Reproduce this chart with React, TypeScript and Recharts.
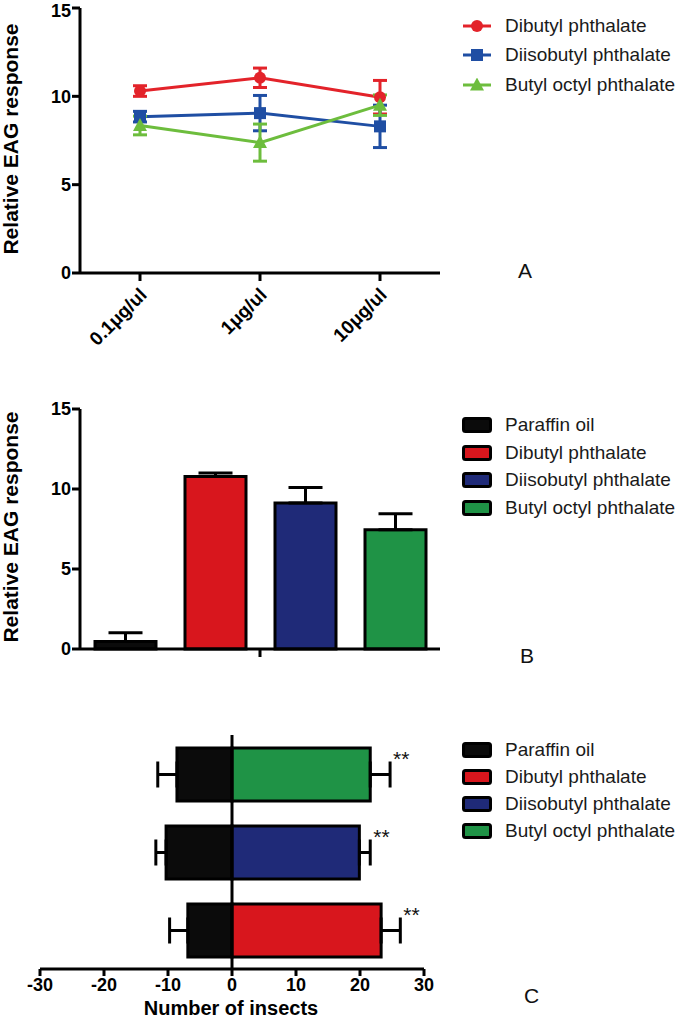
import {
  Bar,
  BarChart,
  Cell,
  ErrorBar,
  Legend,
  Line,
  LineChart,
  ReferenceDot,
  ReferenceLine,
  XAxis,
  YAxis,
} from 'recharts';

const FONT = '"Liberation Sans", Arial, sans-serif';

// Panel A: EAG response by dose
const doses = ['0.1μg/ul', '1μg/ul', '10μg/ul'];
const dbpMean = [10.3, 11.05, 9.95];
const dbpErr = [0.3, 0.55, 0.95];
const dibpMean = [8.85, 9.05, 8.3];
const dibpErr = [0.3, 1.0, 1.2];
const bopMean = [8.35, 7.38, 9.5];
const bopErr = [0.53, 1.05, 0.58];
const compounds = ['Dibutyl phthalate', 'Diisobutyl phthalate', 'Butyl octyl phthalate'];
const compoundKeys = ['dbp', 'dibp', 'bop'];
const lineColors = ['#e3232a', '#1f4ea3', '#6dbd3d'];
const eagTicks = [0, 5, 10, 15];

// Panel B: EAG response at 1μg/ul
const treatments = ['Paraffin oil', 'Dibutyl phthalate', 'Diisobutyl phthalate', 'Butyl octyl phthalate'];
const treatmentKeys = ['paraffin', 'dbp', 'dibp', 'bop'];
const eagMean = [0.47, 10.78, 9.12, 7.46];
const eagErr = [0.55, 0.22, 0.98, 1.0];
const barColors = ['#0b0b0b', '#d8161d', '#1f2a78', '#1f9346'];

// Panel C: choice test, rows from top to bottom
const choiceRows = ['Butyl octyl phthalate', 'Diisobutyl phthalate', 'Dibutyl phthalate'];
const controlCount = [-8.6, -10.3, -6.9];
const controlErr = [3.0, 1.6, 2.85];
const treatCount = [21.6, 19.9, 23.3];
const treatErr = [3.1, 1.7, 3.0];
const treatColors = ['#1f9346', '#1f2a78', '#d8161d'];
const sigMarks = ['**', '**', '**'];
const countTicks = [-30, -20, -10, 0, 10, 20, 30];

const doseData = doses.map((dose, i) => ({
  dose,
  dbp: dbpMean[i],
  dbpErr: dbpErr[i],
  dibp: dibpMean[i],
  dibpErr: dibpErr[i],
  bop: bopMean[i],
  bopErr: bopErr[i],
}));

const eagRow: Record<string, any> = { g: '1μg/ul' };
treatmentKeys.forEach((k, i) => {
  eagRow[k] = eagMean[i];
  eagRow[k + 'Err'] = [0, eagErr[i]];
});
const eagData = [eagRow];

const choiceData = choiceRows.map((name, i) => ({
  name,
  control: controlCount[i],
  controlErr: [controlErr[i], 0],
  treat: treatCount[i],
  treatErr: [0, treatErr[i]],
}));

const axisLine = { stroke: '#000', strokeWidth: 3 };
const tickFont = { fill: '#000', fontSize: 18, fontWeight: 'bold', fontFamily: FONT };

function Marker({ kind, cx, cy, color }: { kind: number; cx: number; cy: number; color: string }) {
  if (kind === 0) return <circle cx={cx} cy={cy} r={6} fill={color} />;
  if (kind === 1) return <rect x={cx - 6} y={cy - 6} width={12} height={12} fill={color} />;
  return <polygon points={`${cx},${cy - 7.5} ${cx - 7},${cy + 5.5} ${cx + 7},${cy + 5.5}`} fill={color} />;
}

function LineLegend() {
  return (
    <div style={{ fontFamily: FONT }}>
      {compounds.map((name, i) => (
        <div key={name} style={{ display: 'flex', alignItems: 'center', height: 29.5 }}>
          <svg width={30} height={14}>
            <line x1={1} x2={29} y1={7} y2={7} stroke={lineColors[i]} strokeWidth={3} />
            <Marker kind={i} cx={15} cy={7} color={lineColors[i]} />
          </svg>
          <span style={{ marginLeft: 13, fontSize: 19, color: '#1a1a1a' }}>{name}</span>
        </div>
      ))}
    </div>
  );
}

function BoxLegend({ rowHeight }: { rowHeight: number }) {
  return (
    <div style={{ fontFamily: FONT }}>
      {treatments.map((name, i) => (
        <div key={name} style={{ display: 'flex', alignItems: 'center', height: rowHeight }}>
          <svg width={30} height={16}>
            <rect x={1.5} y={1.5} width={27} height={13} rx={2} fill={barColors[i]} stroke="#000" strokeWidth={3} />
          </svg>
          <span style={{ marginLeft: 13, fontSize: 19, color: '#1a1a1a' }}>{name}</span>
        </div>
      ))}
    </div>
  );
}

function DoseTick({ x, y, payload }: any) {
  const ax = x + 8;
  const ay = y + 13;
  return (
    <text
      x={ax}
      y={ay}
      transform={`rotate(-45 ${ax} ${ay})`}
      textAnchor="end"
      fill="#000"
      fontSize={19}
      fontWeight="bold"
      fontFamily={FONT}
    >
      {payload.value}
    </text>
  );
}

function yTitle(cy: number) {
  return () => (
    <text
      x={18}
      y={cy}
      transform={`rotate(-90 18 ${cy})`}
      textAnchor="middle"
      fill="#000"
      fontSize={21}
      fontWeight="bold"
      fontFamily={FONT}
    >
      Relative EAG response
    </text>
  );
}

function PanelA() {
  return (
    <LineChart width={685} height={360} data={doseData} margin={{ top: 8, right: 245, bottom: 27, left: 30 }}>
      <XAxis
        dataKey="dose"
        padding={{ left: 60, right: 60 }}
        height={60}
        interval={0}
        axisLine={axisLine}
        tickLine={axisLine}
        tickSize={8}
        tick={(p: any) => <DoseTick {...p} />}
      />
      <YAxis
        width={50}
        domain={[0, 15]}
        ticks={eagTicks}
        axisLine={axisLine}
        tickLine={axisLine}
        tickSize={8}
        tickMargin={1}
        tick={tickFont}
        label={{ content: yTitle(139) }}
      />
      {compoundKeys.map((k, i) => (
        <Line
          key={k}
          dataKey={k}
          name={compounds[i]}
          stroke={lineColors[i]}
          strokeWidth={3}
          isAnimationActive={false}
          dot={(p: any) => <Marker key={`${k}-${p.index}`} kind={i} cx={p.cx} cy={p.cy} color={lineColors[i]} />}
        >
          <ErrorBar dataKey={k + 'Err'} direction="y" width={7} stroke={lineColors[i]} strokeWidth={3} />
        </Line>
      ))}
      <Legend
        verticalAlign="middle"
        content={() => <LineLegend />}
        wrapperStyle={{ left: 462, top: 11, width: 223 }}
      />
    </LineChart>
  );
}

function PanelB() {
  return (
    <BarChart width={685} height={340} data={eagData} barGap={29} margin={{ top: 49, right: 245, bottom: 21, left: 30 }}>
      <XAxis
        dataKey="g"
        height={30}
        axisLine={axisLine}
        tickLine={axisLine}
        tickSize={8}
        tickFormatter={() => ''}
      />
      <YAxis
        width={50}
        domain={[0, 15]}
        ticks={eagTicks}
        axisLine={axisLine}
        tickLine={axisLine}
        tickSize={8}
        tickMargin={1}
        tick={tickFont}
        label={{ content: yTitle(167) }}
      />
      {treatmentKeys.map((k, i) => (
        <Bar
          key={k}
          dataKey={k}
          name={treatments[i]}
          fill={barColors[i]}
          stroke="#000"
          strokeWidth={3}
          barSize={61}
          isAnimationActive={false}
        >
          <ErrorBar dataKey={k + 'Err'} direction="y" width={17} stroke="#000" strokeWidth={3} />
        </Bar>
      ))}
      <Legend
        verticalAlign="middle"
        content={() => <BoxLegend rowHeight={27.7} />}
        wrapperStyle={{ left: 462, top: 51, width: 223 }}
      />
    </BarChart>
  );
}

function PanelC() {
  return (
    <BarChart
      width={685}
      height={321}
      data={choiceData}
      layout="vertical"
      stackOffset="sign"
      margin={{ top: 35, right: 261, bottom: 0, left: 40 }}
    >
      <XAxis
        type="number"
        domain={[-30, 30]}
        ticks={countTicks}
        height={52}
        axisLine={axisLine}
        tickLine={axisLine}
        tickSize={7}
        tick={tickFont}
        label={{
          content: () => (
            <text x={231} y={315} textAnchor="middle" fill="#000" fontSize={20} fontWeight="bold" fontFamily={FONT}>
              Number of insects
            </text>
          ),
        }}
      />
      <YAxis type="category" dataKey="name" hide />
      <Bar dataKey="control" stackId="c" fill="#0b0b0b" stroke="#000" strokeWidth={3} barSize={53} isAnimationActive={false}>
        <ErrorBar dataKey="controlErr" direction="x" width={13} stroke="#000" strokeWidth={3} />
      </Bar>
      <Bar dataKey="treat" stackId="c" stroke="#000" strokeWidth={3} barSize={53} isAnimationActive={false}>
        {choiceData.map((r, i) => (
          <Cell key={r.name} fill={treatColors[i]} />
        ))}
        <ErrorBar dataKey="treatErr" direction="x" width={13} stroke="#000" strokeWidth={3} />
      </Bar>
      <ReferenceLine x={0} stroke="#000" strokeWidth={3} />
      {choiceData.map((r, i) => (
        <ReferenceDot
          key={r.name}
          x={r.treat + treatErr[i]}
          y={r.name}
          r={1}
          fill="none"
          stroke="none"
          label={{
            content: ({ viewBox }: any) => (
              <text x={viewBox.x + 4} y={viewBox.y - 7} fill="#111" fontSize={21} fontFamily={FONT}>
                {sigMarks[i]}
              </text>
            ),
          }}
        />
      ))}
      <Legend
        verticalAlign="middle"
        content={() => <BoxLegend rowHeight={27} />}
        wrapperStyle={{ left: 462, top: 36, width: 223 }}
      />
    </BarChart>
  );
}

const letterStyle = { position: 'absolute' as const, fontSize: 21, lineHeight: '21px', fontFamily: FONT, color: '#111' };

export default function App() {
  return (
    <div
      style={{
        position: 'absolute',
        left: 0,
        top: 0,
        width: 685,
        height: 1021,
        background: '#fff',
        overflow: 'hidden',
        fontFamily: FONT,
      }}
    >
      <div style={{ position: 'absolute', left: 0, top: 0 }}>
        <PanelA />
      </div>
      <div style={{ position: 'absolute', left: 0, top: 360 }}>
        <PanelB />
      </div>
      <div style={{ position: 'absolute', left: 0, top: 700 }}>
        <PanelC />
      </div>
      <div style={{ ...letterStyle, left: 518, top: 260 }}>A</div>
      <div style={{ ...letterStyle, left: 520, top: 645 }}>B</div>
      <div style={{ ...letterStyle, left: 524, top: 985 }}>C</div>
    </div>
  );
}
